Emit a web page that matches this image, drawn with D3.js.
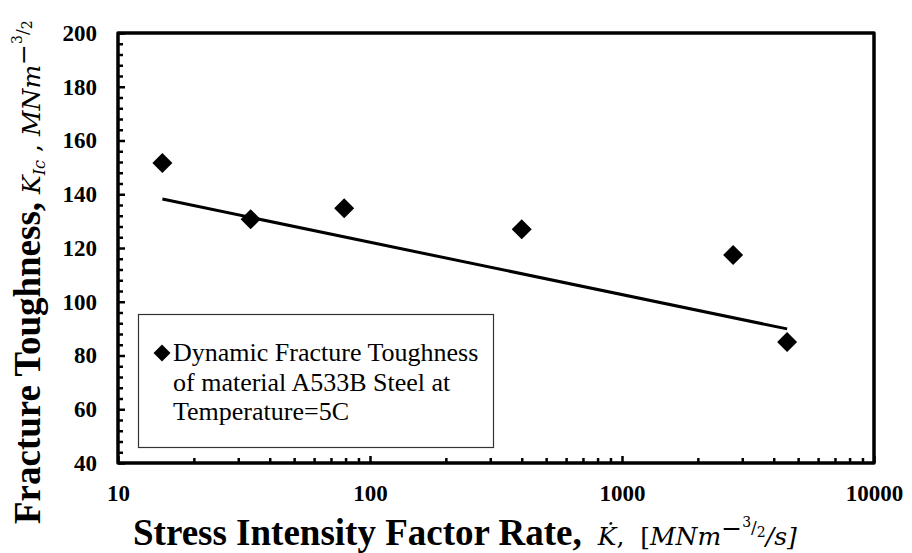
<!DOCTYPE html>
<html>
<head>
<meta charset="utf-8">
<script src="https://cdn.jsdelivr.net/npm/d3@7"></script>
<style>
  body { margin: 0; background: #fff; }
  svg { display: block; }
</style>
</head>
<body>
<div id="svgDiv"></div>
<script>
// data
var rates = [15, 33.6, 79, 400, 2760, 4520];          // K-dot, MNm^-3/2/s
var toughness = [151.6, 130.7, 134.8, 127, 117.4, 85]; // K_Ic, MNm^-3/2
// trend line end points
var trendX = [15, 4520];
var trendY = [138.2, 89.9];
// axis ticks
var xMajor = [10, 100, 1000, 10000];
var yMajor = [40, 60, 80, 100, 120, 140, 160, 180, 200];
var legendLines = ['Dynamic Fracture Toughness', 'of material A533B Steel at', 'Temperature=5C'];

var svgWidth = 912, svgHeight = 553;
var plot = { left: 118, top: 33, right: 874, bottom: 463 };
var boldFont = '"Liberation Serif", "Times New Roman", serif';
var mathFont = '"DejaVu Serif", serif';

var svg = d3.select('#svgDiv').append('svg')
    .attr('width', svgWidth)
    .attr('height', svgHeight);

var xScale = d3.scaleLog().domain([10, 10000]).range([plot.left, plot.right]);
var yScale = d3.scaleLinear().domain([40, 200]).range([plot.bottom, plot.top]);

// minor ticks
var xMinor = [];
xMajor.slice(0, -1).forEach(function(d) {
    for (var k = 2; k <= 9; k++) xMinor.push(d * k);
});
var yMinor = d3.range(40, 201, 4).filter(d => d % 20 != 0);

// x axis
var xAxisG = svg.append('g').attr('transform', `translate(0,${plot.bottom})`);
xAxisG.append('g')
    .call(d3.axisBottom(xScale).tickValues(xMinor).tickFormat('').tickSizeInner(-5).tickSizeOuter(0));
xAxisG.append('g')
    .call(d3.axisBottom(xScale).tickValues(xMajor).tickFormat(d3.format('d'))
        .tickSizeInner(-7).tickSizeOuter(0).tickPadding(22));

// y axis
var yAxisG = svg.append('g').attr('transform', `translate(${plot.left},0)`);
yAxisG.append('g')
    .call(d3.axisLeft(yScale).tickValues(yMinor).tickFormat('').tickSizeInner(-5).tickSizeOuter(0));
yAxisG.append('g')
    .call(d3.axisLeft(yScale).tickValues(yMajor).tickFormat(d3.format('d'))
        .tickSizeInner(-7).tickSizeOuter(0).tickPadding(21));

[xAxisG, yAxisG].forEach(function(g) {
    g.attr('font-family', null).attr('font-size', null);
    g.selectAll('.domain').remove();
    g.selectAll('.tick line').attr('stroke', '#000').attr('stroke-width', 2.5);
    g.selectAll('.tick text')
        .attr('fill', '#000')
        .attr('font-family', boldFont)
        .attr('font-weight', 'bold')
        .attr('font-size', 23);
});

// frame
svg.append('rect')
    .attr('x', plot.left).attr('y', plot.top)
    .attr('width', plot.right - plot.left)
    .attr('height', plot.bottom - plot.top)
    .attr('fill', 'none')
    .attr('stroke', '#000')
    .attr('stroke-width', 3.5)
    .attr('stroke-linejoin', 'round');

// trend line
var line = d3.line().x(d => xScale(d[0])).y(d => yScale(d[1]));
svg.append('path')
    .datum(d3.zip(trendX, trendY))
    .attr('d', line)
    .attr('fill', 'none')
    .attr('stroke', '#000')
    .attr('stroke-width', 3);

// diamonds
var diamond = d3.symbol(d3.symbolSquare, 200);
svg.selectAll('.pt')
    .data(d3.zip(rates, toughness)).enter().append('path')
    .attr('class', 'pt')
    .attr('d', diamond)
    .attr('transform', d => `translate(${xScale(d[0])},${yScale(d[1])}) rotate(45)`)
    .attr('fill', '#000');

// legend
var legend = svg.append('g');
legend.append('rect')
    .attr('x', 138.5).attr('y', 314.5)
    .attr('width', 355).attr('height', 133)
    .attr('fill', '#fff')
    .attr('stroke', '#333')
    .attr('stroke-width', 1.2);
legend.append('path')
    .attr('d', d3.symbol(d3.symbolSquare, 145))
    .attr('transform', 'translate(162,353) rotate(45)')
    .attr('fill', '#000');
legend.selectAll('text')
    .data(legendLines).enter().append('text')
    .attr('x', 173)
    .attr('y', (d, i) => 361 + i * 29.5)
    .attr('font-family', boldFont)
    .attr('font-size', 26)
    .text(d => d);

// axis titles
function addUnit(t, size) {
    // MNm^{-3/2}
    t.append('tspan').style('font-family', mathFont).style('font-style', 'italic')
        .style('font-size', size + 'px').text('MNm');
    t.append('tspan').style('font-family', mathFont).style('font-size', size + 'px')
        .attr('dy', -8).text('\u2212');
    t.append('tspan').style('font-family', mathFont).style('font-size', '14px')
        .attr('dy', -10).text('3');
    t.append('tspan').style('font-family', mathFont).style('font-size', '17px')
        .attr('dy', 6).text('/');
    t.append('tspan').style('font-family', mathFont).style('font-size', '14px')
        .attr('dy', 4).text('2');
}

var xt = svg.append('text').attr('x', 133).attr('y', 545).style('fill', '#000');
xt.append('tspan').style('font-family', boldFont).style('font-weight', 'bold')
    .style('font-size', '37px').text('Stress Intensity Factor Rate,');
xt.append('tspan').style('font-family', mathFont).style('font-style', 'italic')
    .style('font-size', '25px').attr('dx', 16).text('K\u0307');
xt.append('tspan').style('font-family', mathFont).style('font-size', '25px')
    .text(',\u00a0\u00a0[');
addUnit(xt, 25);
xt.append('tspan').style('font-family', mathFont).style('font-style', 'italic')
    .style('font-size', '25px').attr('dy', 8).text('/s]');

var yt = svg.append('text').attr('transform', 'translate(40,524) rotate(-90)').style('fill', '#000');
yt.append('tspan').style('font-family', boldFont).style('font-weight', 'bold')
    .style('font-size', '37px').text('Fracture Toughness,');
yt.append('tspan').style('font-family', mathFont).style('font-style', 'italic')
    .style('font-size', '25px').attr('dx', 8).text('K');
yt.append('tspan').style('font-family', mathFont).style('font-style', 'italic')
    .style('font-size', '16px').attr('dy', 5).text('Ic');
yt.append('tspan').style('font-family', mathFont).style('font-size', '25px')
    .attr('dy', -5).text('\u00a0,\u00a0');
addUnit(yt, 25);
</script>
</body>
</html>
